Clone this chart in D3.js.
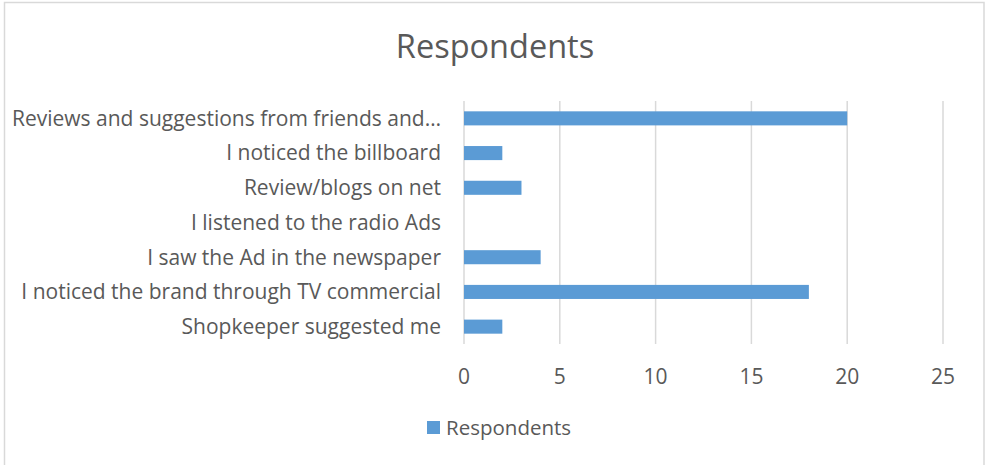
<!DOCTYPE html>
<html>
<head>
<meta charset="utf-8">
<script src="https://cdn.jsdelivr.net/npm/d3@7"></script>
<style>
  html, body { margin: 0; padding: 0; background: #fff; }
  svg { display: block; }
  text { font-family: "Open Sans", "Noto Sans", "Liberation Sans", sans-serif; fill: #595959; }
</style>
</head>
<body>
<svg id="chart" width="986" height="465"></svg>
<script>
// How respondents came to know about the brand
const categories = [
  "Reviews and suggestions from friends and\u2026",
  "I noticed the billboard",
  "Review/blogs on net",
  "I listened to the radio Ads",
  "I saw the Ad in the newspaper",
  "I noticed the brand through TV commercial",
  "Shopkeeper suggested me"
];
const respondents = [20, 2, 3, 0, 4, 18, 2];
const xTicks = [0, 5, 10, 15, 20, 25];
const seriesName = "Respondents";
const chartTitle = "Respondents";

const svg = d3.select("#chart");
const barColor = "#5B9BD5";
const gridColor = "#D9D9D9";

// Outer chart frame
svg.append("rect")
  .attr("x", 4.5).attr("y", 2.5)
  .attr("width", 979.5).attr("height", 470)
  .attr("fill", "#fff")
  .attr("stroke", "#D9D9D9").attr("stroke-width", 1.5);

const plot = { left: 464, right: 943, top: 101, bottom: 344 };

const x = d3.scaleLinear().domain([0, 25]).range([plot.left, plot.right]);
const y = d3.scaleBand().domain(categories).range([plot.top, plot.bottom]).paddingInner(0.595).paddingOuter(0.2975);

// Title
svg.append("text")
  .attr("x", 495).attr("y", 47)
  .attr("dy", "0.35em")
  .attr("text-anchor", "middle")
  .style("font-size", "32.5px")
  .text(chartTitle);

// Vertical gridlines
svg.append("g").selectAll("line").data(xTicks).join("line")
  .attr("x1", d => x(d)).attr("x2", d => x(d))
  .attr("y1", plot.top).attr("y2", plot.bottom)
  .attr("stroke", gridColor).attr("stroke-width", 1.5);

// Bars
svg.append("g").selectAll("rect").data(categories).join("rect")
  .attr("x", x(0))
  .attr("y", d => y(d))
  .attr("width", (d, i) => x(respondents[i]) - x(0))
  .attr("height", y.bandwidth())
  .attr("fill", barColor);

// Category labels
svg.append("g").selectAll("text").data(categories).join("text")
  .attr("x", 441)
  .attr("y", d => y(d) + y.bandwidth() / 2)
  .attr("dy", "0.35em")
  .attr("text-anchor", "end")
  .style("font-size", "21px")
  .text(d => d);

// Value axis tick labels
svg.append("g").selectAll("text").data(xTicks).join("text")
  .attr("x", d => x(d))
  .attr("y", 377)
  .attr("dy", "0.35em")
  .attr("text-anchor", "middle")
  .style("font-size", "21px")
  .text(d => d);

// Legend
const legend = svg.append("g");
legend.append("rect")
  .attr("x", 427).attr("y", 421)
  .attr("width", 13).attr("height", 13)
  .attr("fill", barColor);
legend.append("text")
  .attr("x", 446).attr("y", 428)
  .attr("dy", "0.35em")
  .style("font-size", "20.5px")
  .text(seriesName);
</script>
</body>
</html>
